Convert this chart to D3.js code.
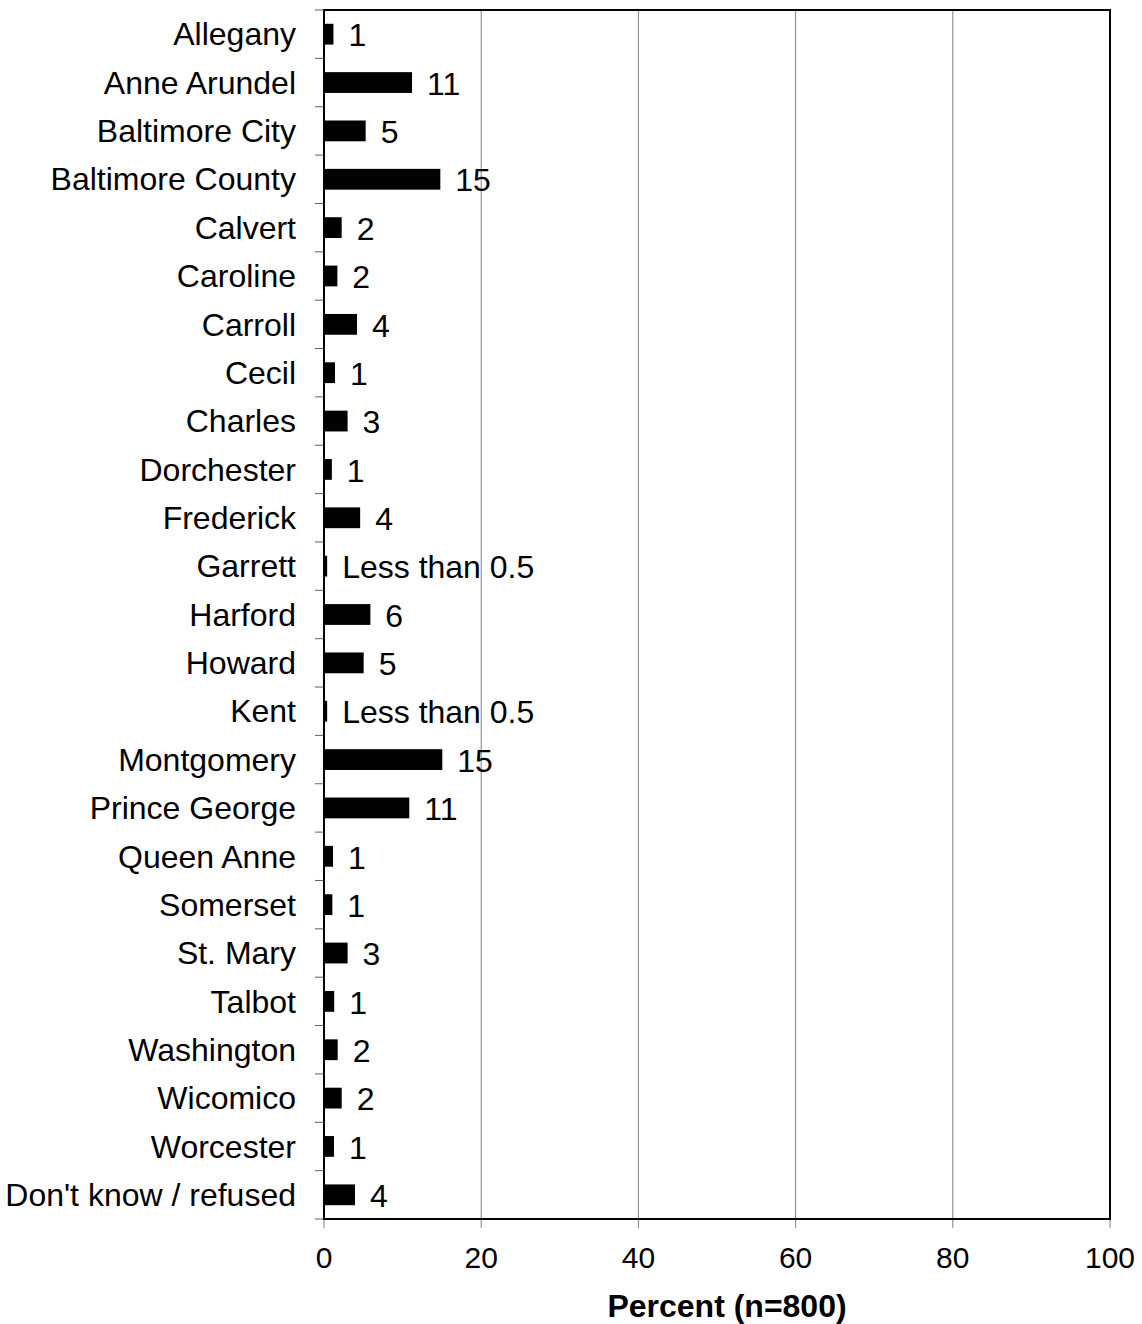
<!DOCTYPE html>
<html>
<head>
<meta charset="utf-8">
<script src="https://cdn.jsdelivr.net/npm/d3@7"></script>
<style>
  body { margin: 0; background: #fff; }
  text { font-family: "Liberation Sans", Arial, sans-serif; fill: #000; }
</style>
</head>
<body>
<svg id="chart" width="1142" height="1324"></svg>
<script>
// Counties in display order (top to bottom)
const counties = [
  "Allegany", "Anne Arundel", "Baltimore City", "Baltimore County", "Calvert",
  "Caroline", "Carroll", "Cecil", "Charles", "Dorchester", "Frederick",
  "Garrett", "Harford", "Howard", "Kent", "Montgomery", "Prince George",
  "Queen Anne", "Somerset", "St. Mary", "Talbot", "Washington", "Wicomico",
  "Worcester", "Don't know / refused"
];

// Bar lengths (percent)
const percents = [
  1.2, 11.2, 5.3, 14.8, 2.25,
  1.7, 4.2, 1.4, 3.0, 1.0, 4.6,
  0.4, 5.9, 5.05, 0.4, 15.05, 10.85,
  1.15, 1.06, 3.0, 1.3, 1.74, 2.25,
  1.27, 3.94
];

// Printed value labels
const valueLabels = [
  "1", "11", "5", "15", "2",
  "2", "4", "1", "3", "1", "4",
  "Less than 0.5", "6", "5", "Less than 0.5", "15", "11",
  "1", "1", "3", "1", "2", "2",
  "1", "4"
];

const xTicks = [0, 20, 40, 60, 80, 100];
const xTitle = "Percent (n=800)";

const svg = d3.select("#chart");
const margin = { top: 10, right: 32, bottom: 105, left: 324 };
const width = 1142 - margin.left - margin.right;
const height = 1324 - margin.top - margin.bottom;

const g = svg.append("g").attr("transform", `translate(${margin.left},${margin.top})`);

const x = d3.scaleLinear().domain([0, 100]).range([0, width]);
const y = d3.scaleBand().domain(counties).range([0, height]).padding(0);
const barH = y.bandwidth() * 0.43;

const rows = counties.map((c, i) => ({ name: c, value: percents[i], label: valueLabels[i] }));

// Vertical gridlines
g.selectAll(".grid")
  .data(xTicks.slice(1, -1))
  .enter()
  .append("line")
  .attr("class", "grid")
  .attr("x1", d => x(d)).attr("x2", d => x(d))
  .attr("y1", 0).attr("y2", height)
  .attr("stroke", "#808080")
  .attr("stroke-width", 1);

// Bottom axis: short ticks below plot + labels
const xAxis = g.append("g").attr("transform", `translate(0,${height})`);
xAxis.selectAll(".xtick")
  .data(xTicks)
  .enter()
  .append("line")
  .attr("x1", d => x(d)).attr("x2", d => x(d))
  .attr("y1", 0).attr("y2", 9)
  .attr("stroke", "#808080");
xAxis.selectAll(".xlabel")
  .data(xTicks)
  .enter()
  .append("text")
  .attr("x", d => x(d))
  .attr("y", 38)
  .attr("dy", "0.35em")
  .attr("text-anchor", "middle")
  .style("font-size", "30px")
  .text(d => d);

// Left ticks at category boundaries
const boundaries = counties.map(c => y(c)).concat([height]);
g.selectAll(".ytick")
  .data(boundaries)
  .enter()
  .append("line")
  .attr("x1", -9).attr("x2", 0)
  .attr("y1", d => d).attr("y2", d => d)
  .attr("stroke", "#606060");

// Category labels
g.selectAll(".cat")
  .data(rows)
  .enter()
  .append("text")
  .attr("x", -28)
  .attr("y", d => y(d.name) + y.bandwidth() / 2)
  .attr("dy", "0.35em")
  .attr("text-anchor", "end")
  .style("font-size", "32px")
  .text(d => d.name);

// Bars
g.selectAll(".bar")
  .data(rows)
  .enter()
  .append("rect")
  .attr("x", 0)
  .attr("y", d => y(d.name) + (y.bandwidth() - barH) / 2)
  .attr("width", d => x(d.value))
  .attr("height", barH)
  .attr("fill", "#000");

// Value labels
g.selectAll(".val")
  .data(rows)
  .enter()
  .append("text")
  .attr("x", d => x(d.value) + 15)
  .attr("y", d => y(d.name) + y.bandwidth() / 2 + 1)
  .attr("dy", "0.35em")
  .style("font-size", "32px")
  .text(d => d.label);

// Plot border
g.append("rect")
  .attr("x", 0).attr("y", 0)
  .attr("width", width).attr("height", height)
  .attr("fill", "none")
  .attr("stroke", "#000")
  .attr("stroke-width", 2);

// Axis title (sits a little right of the plot centre in the original)
svg.append("text")
  .attr("x", margin.left + width / 2 + 10)
  .attr("y", 1306)
  .attr("dy", "0.35em")
  .attr("text-anchor", "middle")
  .style("font-size", "32px")
  .style("font-weight", "bold")
  .text(xTitle);
</script>
</body>
</html>
